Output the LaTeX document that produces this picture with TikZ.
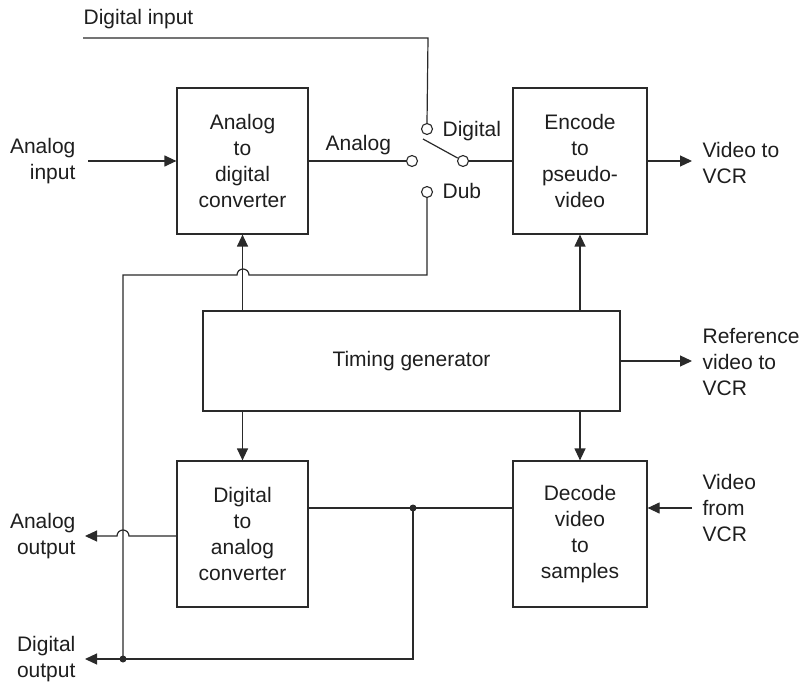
\documentclass[tikz,border=0pt]{standalone}
\usepackage{fontspec}
\setmainfont{Liberation Sans}
\usetikzlibrary{arrows.meta}
\definecolor{ink}{HTML}{2A2A2A}
\definecolor{txt}{HTML}{1E1E1E}
\begin{document}
\begin{tikzpicture}[x=1pt,y=-1pt,
  line width=1.2pt, draw=ink,
  every node/.style={text=txt, font=\fontsize{21}{26}\selectfont},
  blk/.style={draw=ink, line width=1.2pt, align=center, inner sep=0pt},
  lbl/.style={inner sep=0pt},
  pin/.style={circle, draw=ink, fill=white, line width=1.1pt, minimum size=11pt, inner sep=0pt},
  dotn/.style={circle, fill=ink, minimum size=7pt, inner sep=0pt},
  arr/.style={-{Triangle[length=12pt,width=11pt]}}]
\useasboundingbox (0,0) rectangle (799,684);

% blocks
\node[blk, minimum width=131pt, minimum height=146pt] (adc) at (242.5,161) {Analog\\to\\digital\\converter};
\node[blk, minimum width=134pt, minimum height=146pt] (enc) at (580,161) {Encode\\to\\pseudo-\\video};
\node[blk, minimum width=417pt, minimum height=100pt] (tim) at (411.5,361) {Timing generator};
\node[blk, minimum width=131pt, minimum height=146pt] (dac) at (242.5,534) {Digital\\to\\analog\\converter};
\node[blk, minimum width=134pt, minimum height=146pt] (dec) at (580,534) {Decode\\video\\to\\samples};

% switch contacts
\node[pin] (cL) at (412,161) {};
\node[pin] (cP) at (463,161) {};
\node[pin] (cD) at (427,129) {};
\node[pin] (cB) at (427,192) {};
\coordinate (blade) at (423,139);

% labels
\node[lbl, anchor=base west] (tDI) at (83,25) {Digital input};
\node[lbl, anchor=base west] (tAn) at (325,151) {Analog};
\node[lbl, anchor=base west] (tDg) at (442,137) {Digital};
\node[lbl, anchor=base west] (tDb) at (442,199) {Dub};
\node[lbl, anchor=east, align=right] (tAI) at (76,161) {Analog\\input};
\node[lbl, anchor=west, align=left] (tVV) at (702,163) {Video to\\VCR};
\node[lbl, anchor=west, align=left] (tRV) at (702,362) {Reference\\video to\\VCR};
\node[lbl, anchor=west, align=left] (tVF) at (702,508) {Video\\from\\VCR};
\node[lbl, anchor=east, align=right] (tAO) at (76,536) {Analog\\output};
\node[lbl, anchor=east, align=right] (tDO) at (76,659) {Digital\\output};

% free ends
\coordinate (diS) at (83,38);
\coordinate (aiS) at (88,161);
\coordinate (vvE) at (692,161);
\coordinate (rvE) at (692,361);
\coordinate (vfS) at (692,508);
\coordinate (aoE) at (85,536);
\coordinate (doE) at (85,659);
\coordinate (jD) at (413,508);
\coordinate (jL) at (123,659);

% switch wiring
\draw (diS) -- (428,38) -- (cD.north);
\draw (adc.east) -- (cL.west);
\draw (blade) -- (cP);
\draw (cP.east) -- (enc.west);
\draw (cB.south) -- (427,275) -- (249,275) arc[start angle=0,end angle=180,radius=6pt] -- (123,275) -- (jL);

% inputs / outputs
\draw[arr] (aiS) -- (adc.west);
\draw[arr] (enc.east) -- (vvE);
\draw[arr] (tim.east) -- (rvE);
\draw[arr] (vfS) -- (dec.east |- vfS);

% timing
\draw[arr] (tim.north -| adc) -- (adc.south);
\draw[arr] (tim.north -| enc) -- (enc.south);
\draw[arr] (tim.south -| dac) -- (dac.north);
\draw[arr] (tim.south -| dec) -- (dec.north);

% decode to DAC and outputs
\draw (dec.west |- jD) -- (dac.east |- jD);
\draw[arr] (dac.west |- aoE) -- (129,536) arc[start angle=0,end angle=180,radius=6pt] -- (aoE);
\draw[arr] (jD) -- (jD |- doE) -- (doE);
\node[dotn] at (jD) {};
\node[dotn] at (jL) {};
\end{tikzpicture}
\end{document}
